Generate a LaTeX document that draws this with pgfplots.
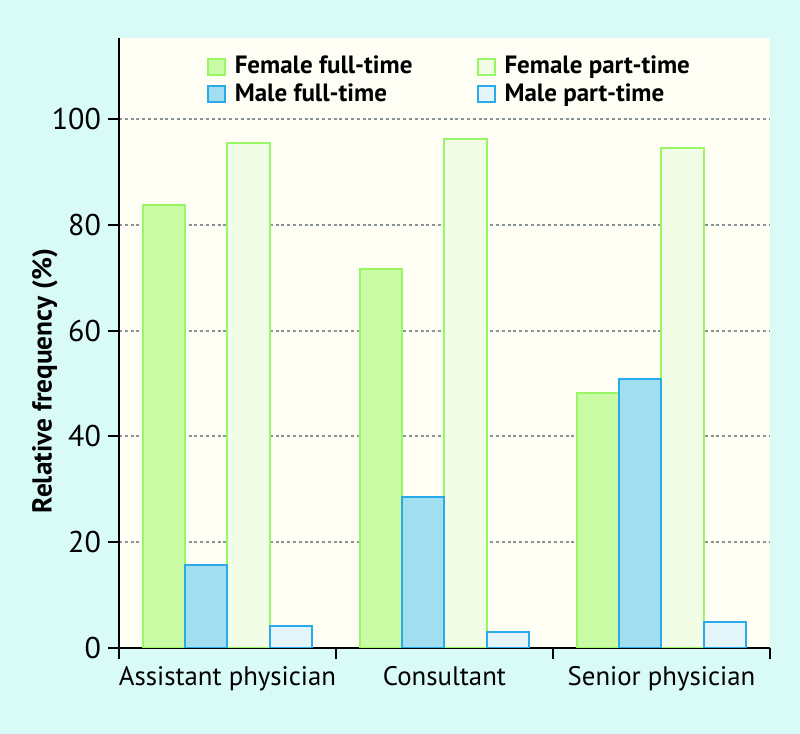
\documentclass[border=0pt]{standalone}
\usepackage{pgfplots}
\pgfplotsset{compat=1.18}
\usepackage{fontspec}
\setmainfont{PT Sans}
\definecolor{outerbg}{HTML}{D9FBF7}
\definecolor{plotbg}{HTML}{FFFEF5}
\definecolor{gfill}{HTML}{C9FCA4}
\definecolor{gline}{HTML}{99F766}
\definecolor{bfill}{HTML}{A1DFF0}
\definecolor{bline}{HTML}{2AAAE8}
\definecolor{gpfill}{HTML}{F1FDE6}
\definecolor{bpfill}{HTML}{E3F4FA}
\definecolor{gridc}{HTML}{8A9494}
\begin{document}
\begin{tikzpicture}
\fill[outerbg] (-59.5pt,-43pt) rectangle (340.5pt,324pt);
\begin{axis}[
  scale only axis, width=325.5pt, height=305pt,
  at={(0pt,0pt)}, anchor=south west,
  xmin=-0.5, xmax=2.5, ymin=0, ymax=115.3,
  axis x line*=bottom, axis y line*=left,
  axis line style={-, line width=1pt, black},
  axis background/.style={fill=plotbg},
  ytick={0,20,40,60,80,100},
  ymajorgrids,
  grid style={gridc, line width=1pt, dash pattern=on 1.5pt off 1.4pt},
  tick align=outside,
  major tick length=5.5pt,
  minor tick length=5.5pt,
  ytick style={line width=1pt, black},
  xtick={0,1,2},
  xticklabels={Assistant physician, Consultant, Senior physician},
  major x tick style={draw=none},
  minor xtick={-0.5,0.5,1.5,2.5},
  minor x tick style={draw=black, line width=1pt},
  /pgf/number format/assume math mode=true,
  xticklabel style={font=\fontsize{13.4}{15}\selectfont},
  yticklabel style={font=\fontsize{15}{17}\selectfont},
  ylabel={Relative frequency (\%)},
  ylabel style={font=\bfseries\fontsize{13.7}{15}\selectfont, at={(axis description cs:-0.114,0.4377)}, anchor=center},
  legend columns=2,
  legend cell align=left,
  legend style={draw=none, fill=none, at={(axis description cs:0.125,0.984)}, anchor=north west,
    font=\bfseries\fontsize{12.5}{14}\selectfont,
    /tikz/every odd column/.append style={column sep=2.5pt},
    /tikz/every even column/.append style={column sep=30pt}, row sep=-0.5pt},
  legend image code/.code={\draw[#1, line width=1pt] (0pt,-4pt) rectangle (8.5pt,4pt);},
]
\addplot[ybar, bar width=0.195, bar shift=-0.2925, fill=gfill, draw=gline, line width=1pt]
  coordinates {(0,83.7) (1,71.6) (2,48.2)};
\addlegendentry{Female full-time}
\addplot[ybar, bar width=0.195, bar shift=0.0975, fill=gpfill, draw=gline, line width=1pt]
  coordinates {(0,95.5) (1,96.3) (2,94.5)};
\addlegendentry{Female part-time}
\addplot[ybar, bar width=0.195, bar shift=-0.0975, fill=bfill, draw=bline, line width=1pt]
  coordinates {(0,15.7) (1,28.6) (2,50.9)};
\addlegendentry{Male full-time}
\addplot[ybar, bar width=0.195, bar shift=0.2925, fill=bpfill, draw=bline, line width=1pt]
  coordinates {(0,4.1) (1,3.0) (2,4.9)};
\addlegendentry{Male part-time}
\end{axis}
\end{tikzpicture}
\end{document}
